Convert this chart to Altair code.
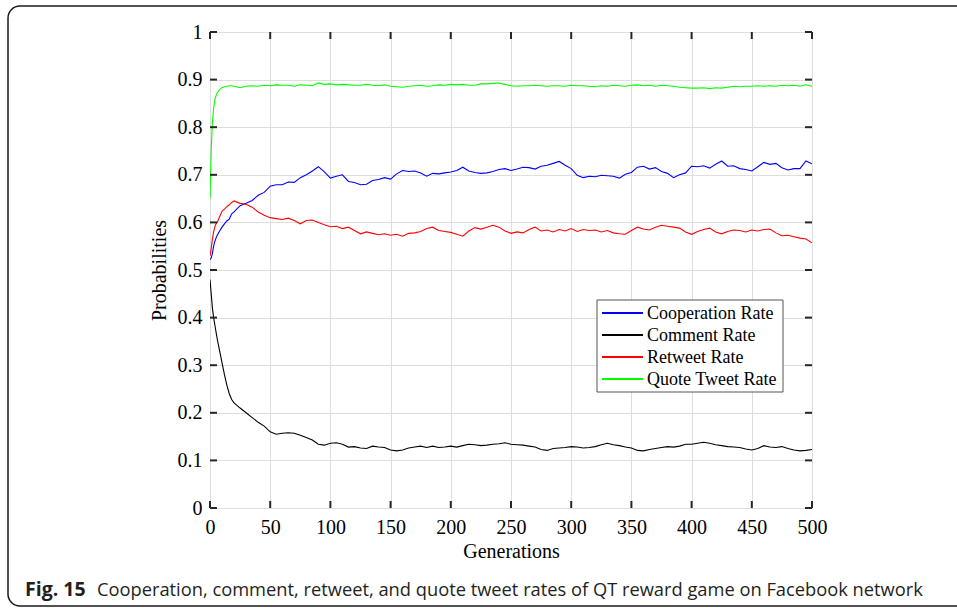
import altair as alt
import pandas as pd

gens = [0, 1, 2, 3, 4, 5, 6, 8, 10, 12, 14, 16, 18, 20] + list(range(25, 505, 5))

quote = [0.65, 0.75, 0.81, 0.84, 0.857, 0.866, 0.872, 0.879, 0.883, 0.885, 0.886, 0.887, 0.887, 0.886,
         0.883, 0.886, 0.887, 0.886, 0.888, 0.887, 0.889, 0.888, 0.888, 0.886, 0.889, 0.888, 0.887, 0.893,
         0.890, 0.891, 0.889, 0.890, 0.889, 0.888, 0.888, 0.890, 0.888, 0.887, 0.889, 0.886, 0.885, 0.884,
         0.886, 0.887, 0.888, 0.886, 0.887, 0.889, 0.888, 0.890, 0.889, 0.890, 0.888, 0.888, 0.891, 0.891,
         0.892, 0.893, 0.890, 0.887, 0.886, 0.887, 0.887, 0.888, 0.887, 0.886, 0.887, 0.887, 0.886, 0.888,
         0.887, 0.887, 0.886, 0.885, 0.887, 0.886, 0.888, 0.887, 0.886, 0.888, 0.889, 0.887, 0.888, 0.886,
         0.888, 0.887, 0.886, 0.884, 0.883, 0.882, 0.882, 0.883, 0.881, 0.883, 0.882, 0.884, 0.886, 0.885,
         0.886, 0.886, 0.887, 0.886, 0.887, 0.886, 0.888, 0.887, 0.888, 0.886, 0.889, 0.886]

coop = [0.522, 0.525, 0.535, 0.55, 0.56, 0.567, 0.573, 0.582, 0.59, 0.597, 0.603, 0.607, 0.618, 0.622,
        0.635, 0.640, 0.646, 0.657, 0.663, 0.676, 0.679, 0.679, 0.685, 0.684, 0.694, 0.700, 0.708, 0.717,
        0.706, 0.693, 0.697, 0.700, 0.686, 0.684, 0.679, 0.680, 0.688, 0.690, 0.694, 0.691, 0.702, 0.709,
        0.707, 0.708, 0.704, 0.697, 0.703, 0.702, 0.704, 0.706, 0.709, 0.716, 0.708, 0.705, 0.703, 0.704,
        0.707, 0.711, 0.713, 0.709, 0.712, 0.716, 0.715, 0.712, 0.718, 0.720, 0.724, 0.728, 0.720, 0.713,
        0.699, 0.694, 0.697, 0.696, 0.699, 0.698, 0.697, 0.693, 0.701, 0.705, 0.716, 0.718, 0.712, 0.715,
        0.707, 0.703, 0.694, 0.700, 0.704, 0.718, 0.717, 0.719, 0.714, 0.722, 0.729, 0.718, 0.719, 0.713,
        0.711, 0.708, 0.717, 0.726, 0.722, 0.724, 0.715, 0.710, 0.713, 0.713, 0.729, 0.723]

retweet = [0.530, 0.545, 0.565, 0.58, 0.59, 0.597, 0.600, 0.612, 0.624, 0.628, 0.633, 0.637, 0.642, 0.645,
           0.640, 0.638, 0.632, 0.622, 0.615, 0.610, 0.608, 0.606, 0.609, 0.604, 0.597, 0.604, 0.605, 0.600,
           0.595, 0.591, 0.592, 0.587, 0.590, 0.583, 0.576, 0.580, 0.577, 0.574, 0.576, 0.573, 0.575, 0.571,
           0.577, 0.578, 0.581, 0.587, 0.590, 0.583, 0.581, 0.579, 0.575, 0.571, 0.582, 0.589, 0.586, 0.590,
           0.594, 0.590, 0.582, 0.577, 0.580, 0.578, 0.585, 0.590, 0.582, 0.584, 0.580, 0.585, 0.582, 0.587,
           0.581, 0.585, 0.583, 0.584, 0.580, 0.583, 0.578, 0.576, 0.575, 0.583, 0.590, 0.586, 0.584, 0.590,
           0.594, 0.592, 0.590, 0.588, 0.580, 0.575, 0.581, 0.585, 0.588, 0.580, 0.576, 0.581, 0.584, 0.583,
           0.580, 0.584, 0.582, 0.585, 0.586, 0.578, 0.572, 0.573, 0.570, 0.567, 0.565, 0.557]

comment = [0.48, 0.45, 0.42, 0.40, 0.385, 0.37, 0.355, 0.33, 0.305, 0.28, 0.258, 0.24, 0.228, 0.221,
           0.210, 0.200, 0.190, 0.180, 0.172, 0.160, 0.155, 0.157, 0.158, 0.157, 0.153, 0.148, 0.143, 0.134,
           0.132, 0.136, 0.137, 0.134, 0.128, 0.129, 0.126, 0.125, 0.130, 0.128, 0.127, 0.122, 0.120, 0.122,
           0.126, 0.128, 0.130, 0.127, 0.130, 0.127, 0.128, 0.130, 0.128, 0.131, 0.134, 0.133, 0.131, 0.132,
           0.134, 0.135, 0.137, 0.134, 0.133, 0.132, 0.130, 0.128, 0.123, 0.121, 0.125, 0.126, 0.127, 0.129,
           0.128, 0.126, 0.127, 0.129, 0.133, 0.136, 0.133, 0.131, 0.128, 0.126, 0.121, 0.120, 0.123, 0.125,
           0.127, 0.129, 0.128, 0.130, 0.134, 0.134, 0.136, 0.138, 0.136, 0.133, 0.131, 0.129, 0.128, 0.127,
           0.124, 0.122, 0.125, 0.131, 0.128, 0.127, 0.129, 0.125, 0.122, 0.120, 0.121, 0.123]

series_names = ["Cooperation Rate", "Comment Rate", "Retweet Rate", "Quote Tweet Rate"]
series_colors = ["#0000ff", "#000000", "#ff0000", "#00ff00"]
x_ticks = [0, 50, 100, 150, 200, 250, 300, 350, 400, 450, 500]
y_ticks = [0, 0.1, 0.2, 0.3, 0.4, 0.5, 0.6, 0.7, 0.8, 0.9, 1.0]

rows = []
for name, vals in zip(series_names, [coop, comment, retweet, quote]):
    for g, v in zip(gens, vals):
        rows.append({"gen": g, "value": v, "series": name})
df = pd.DataFrame(rows)

W, H = 602, 476
SERIF = "Liberation Serif"
AX = "#262626"

xscale = alt.Scale(domain=[0, 500], nice=False)
yscale = alt.Scale(domain=[0, 1], nice=False)
cscale = alt.Scale(domain=series_names, range=series_colors)

lines = alt.Chart(df).mark_line(strokeWidth=1.1, clip=True).encode(
    x=alt.X("gen:Q", scale=xscale, title="Generations",
            axis=alt.Axis(values=x_ticks, grid=True, ticks=False, domain=False,
                          labelFlush=False, labelOverlap=False,
                          labelFont=SERIF, labelFontSize=20, labelColor="black",
                          labelPadding=9, titleFont=SERIF, titleFontSize=20,
                          titleFontWeight="normal", titleColor="black", titlePadding=4,
                          gridColor="#dedede", gridWidth=1)),
    y=alt.Y("value:Q", scale=yscale, title="Probabilities",
            axis=alt.Axis(values=y_ticks, grid=True, ticks=False, domain=False,
                          labelFlush=False, labelOverlap=False,
                          labelFont=SERIF, labelFontSize=20, labelColor="black",
                          labelPadding=8, titleFont=SERIF, titleFontSize=20,
                          titleFontWeight="normal", titleColor="black", titlePadding=8,
                          gridColor="#dedede", gridWidth=1, labelExpr="format(datum.value, '~g')")),
    color=alt.Color("series:N", scale=cscale, legend=None),
    order=alt.Order("gen:Q"),
)

xt = pd.DataFrame({"t": x_ticks})
yt = pd.DataFrame({"t": y_ticks})
tick_bottom = alt.Chart(xt).mark_rule(color=AX, strokeWidth=2).encode(
    x=alt.X("t:Q", scale=xscale), y=alt.value(H), y2=alt.value(H - 7))
tick_top = alt.Chart(xt).mark_rule(color=AX, strokeWidth=2).encode(
    x=alt.X("t:Q", scale=xscale), y=alt.value(0), y2=alt.value(7))
tick_left = alt.Chart(yt).mark_rule(color=AX, strokeWidth=2).encode(
    y=alt.Y("t:Q", scale=yscale), x=alt.value(0), x2=alt.value(7))
tick_right = alt.Chart(yt).mark_rule(color=AX, strokeWidth=2).encode(
    y=alt.Y("t:Q", scale=yscale), x=alt.value(W), x2=alt.value(W - 7))

# legend (manual, positioned inside the plot)
leg = pd.DataFrame({"series": series_names, "idx": list(range(len(series_names)))})
leg_box = alt.Chart(pd.DataFrame({"a": [0]})).mark_rect(
    fill="white", stroke="#555555", strokeWidth=1
).encode(x=alt.value(387), x2=alt.value(573), y=alt.value(268), y2=alt.value(360))
leg_lines = alt.Chart(leg).transform_calculate(py="281 + 22*datum.idx").mark_rule(strokeWidth=2).encode(
    x=alt.value(392), x2=alt.value(433),
    y=alt.Y("py:Q", scale=None),
    color=alt.Color("series:N", scale=cscale, legend=None))
leg_text = alt.Chart(leg).transform_calculate(py="281 + 22*datum.idx").mark_text(
    font=SERIF, fontSize=18, align="left", baseline="middle", color="black", dy=1
).encode(x=alt.value(437), y=alt.Y("py:Q", scale=None), text="series:N")

# outer figure frame: open on the right, rounded on the left corners
frame = alt.Chart(pd.DataFrame({"a": [0]})).mark_rect(
    fill="transparent", stroke="#1a1a1a", strokeWidth=1.5, clip=False,
    cornerRadiusTopLeft=12, cornerRadiusBottomLeft=12
).encode(x=alt.value(-202), x2=alt.value(820), y=alt.value(-26), y2=alt.value(574))

cap_bold = alt.Chart(pd.DataFrame({"a": ["Fig. 15"]})).mark_text(
    font="Open Sans", fontSize=19.5, fontWeight="bold", align="left", baseline="alphabetic",
    color="#231f20"
).encode(text="a:N", x=alt.value(-185), y=alt.value(564))
cap_text = alt.Chart(pd.DataFrame({"a": ["Cooperation, comment, retweet, and quote tweet rates of QT reward game on Facebook network"]})).mark_text(
    font="Open Sans", fontSize=18.3, align="left", baseline="alphabetic", color="#231f20"
).encode(text="a:N", x=alt.value(-113), y=alt.value(564))

chart = alt.layer(
    frame, lines, tick_bottom, tick_top, tick_left, tick_right,
    leg_box, leg_lines, leg_text, cap_bold, cap_text
).properties(
    width=W, height=H,
    autosize=alt.AutoSizeParams(type="none"),
    padding={"left": 210, "top": 32, "right": 145, "bottom": 100},
).configure_view(stroke=AX, strokeWidth=2).configure(background="white")

chart.save("out.html", embed_options={"renderer": "svg", "actions": False})
